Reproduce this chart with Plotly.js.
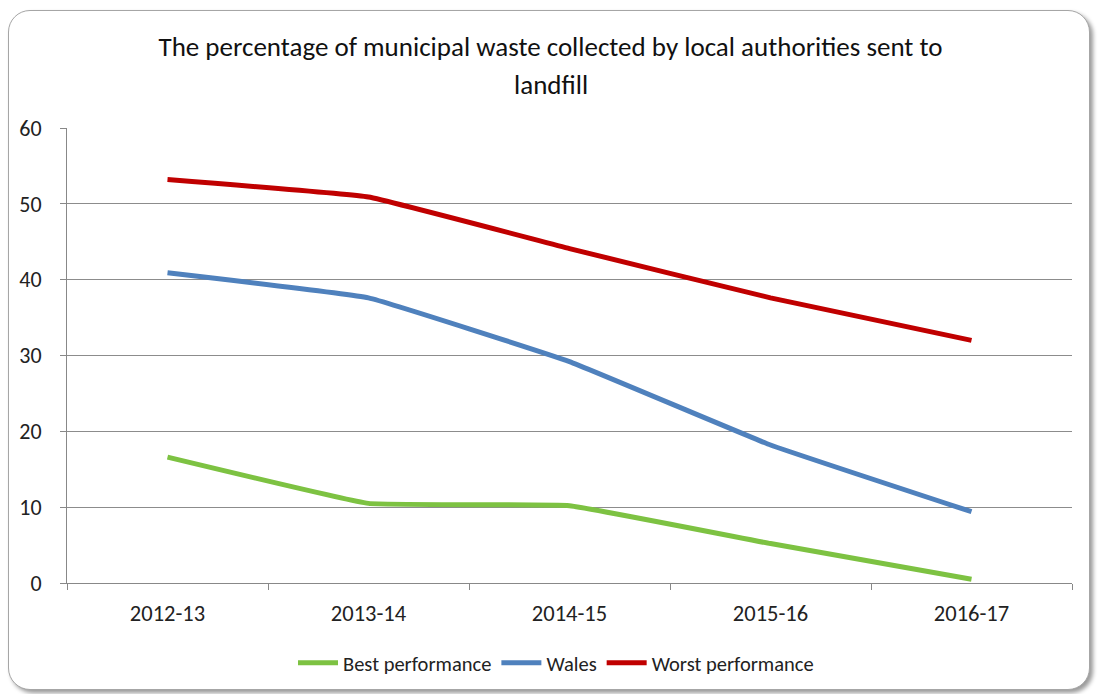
<!DOCTYPE html>
<html>
<head>
<meta charset="utf-8">
<script src="https://cdn.plot.ly/plotly-3.0.1.min.js"></script>
<style>
  html, body { margin: 0; padding: 0; background: #ffffff; }
  #frame { position: absolute; left: 8px; top: 10px; width: 1080px; height: 678px;
           border: 1.5px solid #a6a6a6; border-radius: 22px; box-shadow: 3px 3px 4px #9a9a9a; background: #fff; }
  #chart { position: absolute; left: 0; top: 0; width: 1101px; height: 694px; }
</style>
</head>
<body>
<div id="frame"></div>
<div id="chart"></div>
<script>
const categories = ["2012-13", "2013-14", "2014-15", "2015-16", "2016-17"];
const bestPerformance = [16.6, 10.5, 10.2, 5.2, 0.5];
const wales = [40.9, 37.6, 29.2, 18.2, 9.4];
const worstPerformance = [53.2, 50.9, 44.1, 37.6, 32.0];
const yTicks = [0, 10, 20, 30, 40, 50, 60];

const FONT = "Carlito, Lato, 'Open Sans', sans-serif";

function series(name, values, color) {
  return {
    type: "scatter", mode: "lines", name: name,
    x: categories, y: values,
    line: { color: color, width: 5, shape: "spline", smoothing: 0.25 },
    hoverinfo: "x+y+name"
  };
}

const data = [
  series("Best performance", bestPerformance, "#7dc242"),
  series("Wales", wales, "#4f81bd"),
  series("Worst performance", worstPerformance, "#c00000")
];

const PT = 128, PB = 583;
const paperY = (py) => (PB - py) / (PB - PT);

const layout = {
  width: 1101, height: 694,
  paper_bgcolor: "rgba(0,0,0,0)", plot_bgcolor: "rgba(0,0,0,0)",
  margin: { l: 67, r: 29, t: PT, b: 694 - PB },
  font: { family: FONT, color: "#222", size: 22 },
  title: {
    text: "The percentage of municipal waste collected by local authorities sent to",
    font: { family: FONT, size: 27, color: "#111" },
    x: 0.5, xref: "container", xanchor: "center",
    y: 1 - 47 / 694, yref: "container", yanchor: "middle"
  },
  annotations: [{
    text: "landfill", xref: "paper", yref: "paper", x: 0.482, y: paperY(85),
    xanchor: "center", yanchor: "middle", showarrow: false,
    font: { family: FONT, size: 27, color: "#111" }
  }],
  xaxis: {
    type: "category", range: [-0.5, 4.5],
    tickson: "boundaries", ticks: "outside", ticklen: 6, tickcolor: "#888", tickwidth: 1,
    showline: true, linecolor: "#888", linewidth: 1, mirror: false,
    showgrid: false, zeroline: false,
    tickfont: { family: FONT, size: 22.5, color: "#222" },
    ticklabelstandoff: 10, fixedrange: true
  },
  yaxis: {
    range: [0, 60], tickvals: yTicks, ticktext: yTicks.map(String),
    ticks: "outside", ticklen: 6, tickcolor: "#888", tickwidth: 1,
    showline: true, linecolor: "#888", linewidth: 1,
    showgrid: true, gridcolor: "#8c8c8c", gridwidth: 1, zeroline: false,
    tickfont: { family: FONT, size: 22, color: "#222" },
    ticklabelstandoff: 14, fixedrange: true
  },
  showlegend: true,
  legend: {
    orientation: "h", xref: "container", yref: "container",
    x: 0.505, xanchor: "center", y: 1 - 663 / 694, yanchor: "middle",
    font: { family: FONT, size: 20.5, color: "#222" },
    bgcolor: "rgba(0,0,0,0)", itemwidth: 40, tracegroupgap: 0
  },
  hovermode: "closest"
};

Plotly.newPlot("chart", data, layout, { displayModeBar: false });
</script>
</body>
</html>
